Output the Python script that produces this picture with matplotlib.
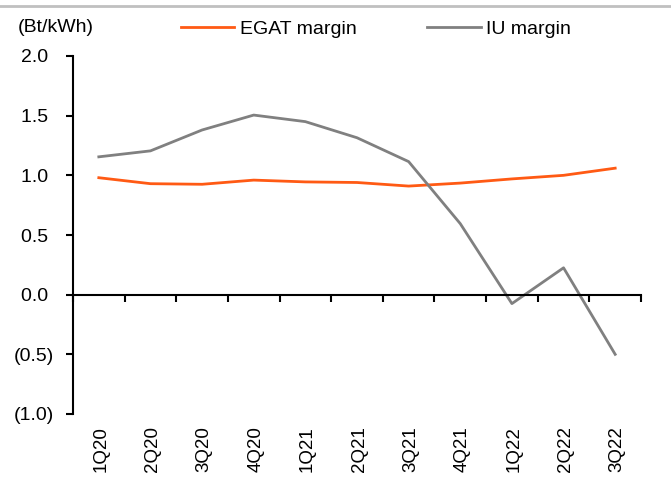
import numpy as np
import matplotlib.pyplot as plt
from matplotlib.lines import Line2D

plt.rcParams['font.family'] = ['Liberation Sans', 'DejaVu Sans']

#data
quarters = ['1Q20', '2Q20', '3Q20', '4Q20', '1Q21', '2Q21', '3Q21', '4Q21', '1Q22', '2Q22', '3Q22']
egat_margin = [0.98, 0.93, 0.925, 0.96, 0.945, 0.94, 0.91, 0.935, 0.97, 1.00, 1.06]
iu_margin = [1.155, 1.205, 1.38, 1.505, 1.45, 1.315, 1.115, 0.595, -0.075, 0.225, -0.50]

orange = '#FF5A14'
grey = '#808080'
fs = 14

fig = plt.figure(figsize=(6.71, 4.84), dpi=100)
ax = fig.add_axes([73/671, 1 - 414/484, (641 - 73)/671, (414 - 56)/484])

x = np.arange(len(quarters))
ax.plot(x, egat_margin, color=orange, lw=2.0, label='EGAT margin')
ax.plot(x, iu_margin, color=grey, lw=2.0, label='IU margin')

ax.set_xlim(-0.5, len(quarters) - 0.5)
ax.set_ylim(-1.0, 2.0)

#y axis, excel style number format
yt = np.arange(-1.0, 2.01, 0.5)
ax.set_yticks(yt)
ax.set_yticklabels(['(%.1f)' % -v if v < 0 else '%.1f ' % v for v in yt], fontsize=fs)
ax.tick_params(axis='y', direction='out', length=5, width=1.5, pad=9)

#x axis at zero, ticks between categories
ax.spines['bottom'].set_position(('data', 0))
ax.spines['bottom'].set_linewidth(1.5)
ax.spines['left'].set_linewidth(1.5)
ax.spines['top'].set_visible(False)
ax.spines['right'].set_visible(False)
ax.set_xticks(np.arange(-0.5, len(quarters), 1.0))
ax.set_xticklabels([])
ax.tick_params(axis='x', direction='out', length=5, width=1.5)
for i, q in enumerate(quarters):
    ax.text(i + 0.04, -1.1, q, rotation=90, ha='center', va='top', fontsize=13.5,
            transform=ax.transData, clip_on=False)

#unit label and legend
fig.text(18/671, 1 - 27/484, '(Bt/kWh)', fontsize=fs, va='center', ha='left')
handles = [Line2D([], [], color=orange, lw=2.0), Line2D([], [], color=grey, lw=2.0)]
fig.legend(handles, ['EGAT margin', 'IU margin'], loc='center left',
           bbox_to_anchor=(181/671, 1 - 29/484), ncol=2, frameon=False, fontsize=fs,
           handlelength=2.75, handletextpad=0.3, columnspacing=3.6, borderaxespad=0,
           borderpad=0)

#top border line
fig.add_artist(Line2D([0, 1], [1 - 5.5/484, 1 - 5.5/484], transform=fig.transFigure,
                      color='#C0C0C0', lw=2))

fig.savefig('out.png', dpi=100)
